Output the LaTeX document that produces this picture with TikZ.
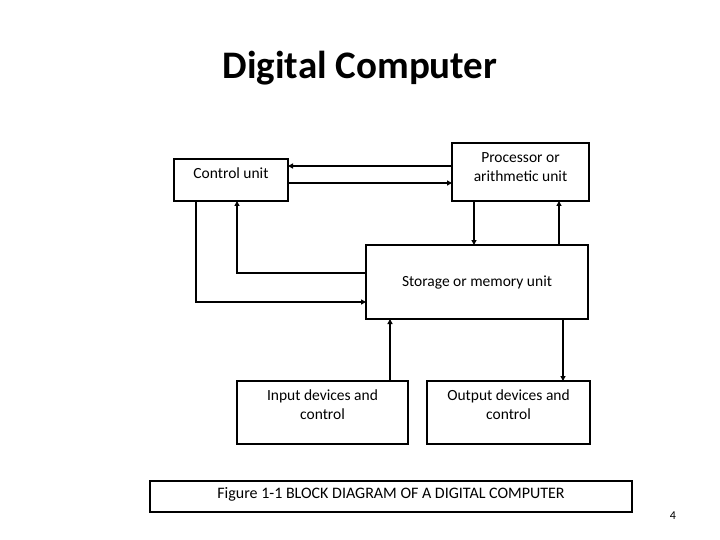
\documentclass[tikz,border=0pt]{standalone}
\usepackage{fontspec}
\setmainfont{Carlito}
\usetikzlibrary{arrows.meta}
\begin{document}
\begin{tikzpicture}[x=1pt,y=-1pt,
  box/.style={draw,line width=2.4pt,align=center,font=\fontsize{15.5}{19}\selectfont},
  con/.style={line width=1.3pt,-{Triangle[length=5pt,width=5pt]}},
  ln/.style={line width=1.3pt}]
\useasboundingbox (0,0) rectangle (720,540);
\node[font=\bfseries\fontsize{39}{44}\selectfont] (t) at (360,68) {Digital Computer};
\path[box] (174,159) rectangle (288,201) node[midway,draw=none,yshift=7pt] (c) {Control unit};
\path[box] (452,143) rectangle (589,201) node[midway,draw=none,yshift=5pt] (p) {Processor or\\arithmetic unit};
\path[box] (366,245) rectangle (588,319) node[midway,draw=none] (s) {Storage or memory unit};
\path[box] (237,381) rectangle (408,444) node[midway,draw=none,yshift=8pt] (i) {Input devices and\\control};
\path[box] (427,381) rectangle (590,444) node[midway,draw=none,yshift=8pt] (o) {Output devices and\\control};
\path[box] (150,481) rectangle (632,512) node[midway,draw=none,yshift=2pt,font=\fontsize{16}{19}\selectfont] (f) {Figure 1-1 BLOCK DIAGRAM OF A DIGITAL COMPUTER};
\node[font=\fontsize{12}{14}\selectfont] (n) at (673,516) {4};
\coordinate (a1) at (452,166); \coordinate (a2) at (288,166);
\draw[con] (a1) -- (a2);
\coordinate (b1) at (288,183); \coordinate (b2) at (452,183);
\draw[con] (b1) -- (b2);
\coordinate (d1) at (474,201); \coordinate (d2) at (474,245);
\draw[con] (d1) -- (d2);
\coordinate (e1) at (559,245); \coordinate (e2) at (559,201);
\draw[con] (e1) -- (e2);
\coordinate (g1) at (366,273); \coordinate (g2) at (237,201);
\draw[con] (g1) -| (g2);
\coordinate (h1) at (196,201); \coordinate (h2) at (366,302);
\draw[con] (h1) |- (h2);
\coordinate (i1) at (390,381); \coordinate (i2) at (390,319);
\draw[con] (i1) -- (i2);
\coordinate (j1) at (563,319); \coordinate (j2) at (563,381);
\draw[con] (j1) -- (j2);
\end{tikzpicture}
\end{document}
